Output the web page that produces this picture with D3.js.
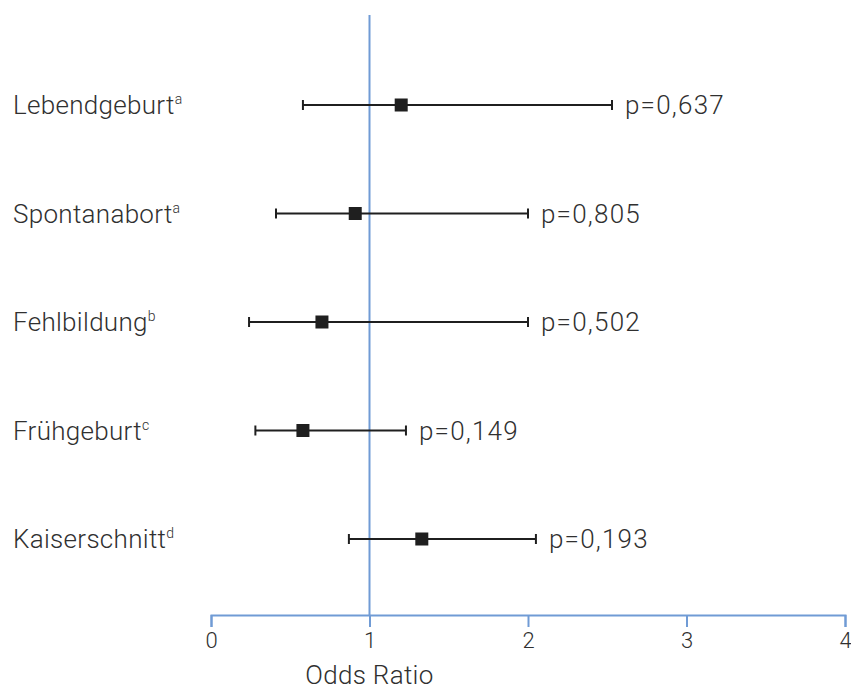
<!DOCTYPE html>
<html>
<head>
<meta charset="utf-8">
<script src="https://cdn.jsdelivr.net/npm/d3@7"></script>
<style>
  body { margin: 0; background: #fff; }
  text { font-family: Roboto, "Liberation Sans", sans-serif; font-weight: 300; fill: #303030; }
</style>
</head>
<body>
<div id="chart"></div>
<script>
// Data
const outcomes = ["Lebendgeburt", "Spontanabort", "Fehlbildung", "Frühgeburt", "Kaiserschnitt"];
const notes = ["a", "a", "b", "c", "d"];
const oddsRatios = [1.20, 0.91, 0.70, 0.58, 1.33];
const ciLow = [0.58, 0.41, 0.24, 0.28, 0.87];
const ciHigh = [2.53, 2.00, 2.00, 1.23, 2.05];
const pValues = ["p=0,637", "p=0,805", "p=0,502", "p=0,149", "p=0,193"];
const xTicks = [0, 1, 2, 3, 4];

const WIDTH = 851;
const HEIGHT = 692;
const AXIS_Y = 615;
const BLUE = "#709bd5";

const svg = d3.select("#chart").append("svg")
  .attr("width", WIDTH)
  .attr("height", HEIGHT);

const x = d3.scaleLinear().domain([0, 4]).range([211, 845]);
const y = d3.scalePoint().domain(outcomes).range([105, 539]);

// reference line at OR = 1
svg.append("line")
  .attr("x1", x(1)).attr("x2", x(1))
  .attr("y1", 15).attr("y2", AXIS_Y)
  .attr("stroke", BLUE).attr("stroke-width", 2);

// x axis
const axis = svg.append("g")
  .attr("transform", `translate(0,${AXIS_Y})`)
  .call(d3.axisBottom(x).tickValues(xTicks).tickSize(12).tickPadding(5).tickFormat(d3.format("d")));
axis.select(".domain").attr("stroke", BLUE).attr("stroke-width", 2);
axis.selectAll(".tick line").attr("stroke", BLUE).attr("stroke-width", 2);
axis.selectAll(".tick text")
  .style("font-family", "Roboto, 'Liberation Sans', sans-serif")
  .style("font-weight", 300)
  .style("font-size", "22px")
  .attr("fill", "#303030");

svg.append("text")
  .attr("x", x(1)).attr("y", 684)
  .attr("text-anchor", "middle")
  .style("font-size", "26px")
  .style("letter-spacing", "0.3px")
  .text("Odds Ratio");

const rows = svg.append("g").selectAll("g")
  .data(outcomes)
  .join("g")
  .attr("transform", (d) => `translate(0,${y(d)})`);

// row labels with superscript notes
const lbl = rows.append("text")
  .attr("x", 13).attr("y", 9)
  .style("font-size", "26px")
  .style("letter-spacing", "0.3px");
lbl.append("tspan").text((d) => d);
lbl.append("tspan")
  .attr("dx", 0).attr("dy", -10)
  .style("font-size", "14px")
  .style("letter-spacing", "0px")
  .text((d, i) => notes[i]);

// CI lines
rows.append("line")
  .attr("x1", (d, i) => x(ciLow[i]))
  .attr("x2", (d, i) => x(ciHigh[i]))
  .attr("stroke", "#1f1f1f").attr("stroke-width", 2);

// caps
rows.selectAll("line.cap")
  .data((d, i) => [ciLow[i], ciHigh[i]])
  .join("line")
  .attr("class", "cap")
  .attr("x1", (v) => x(v)).attr("x2", (v) => x(v))
  .attr("y1", -5).attr("y2", 5)
  .attr("stroke", "#1f1f1f").attr("stroke-width", 2);

// point estimate
rows.append("rect")
  .attr("x", (d, i) => x(oddsRatios[i]) - 6.5)
  .attr("y", -6.5)
  .attr("width", 13).attr("height", 13)
  .attr("fill", "#1f1f1f");

// p values
rows.append("text")
  .attr("x", (d, i) => x(ciHigh[i]) + 13)
  .attr("y", 9)
  .style("font-size", "26px")
  .style("letter-spacing", "1.2px")
  .text((d, i) => pValues[i]);
</script>
</body>
</html>
